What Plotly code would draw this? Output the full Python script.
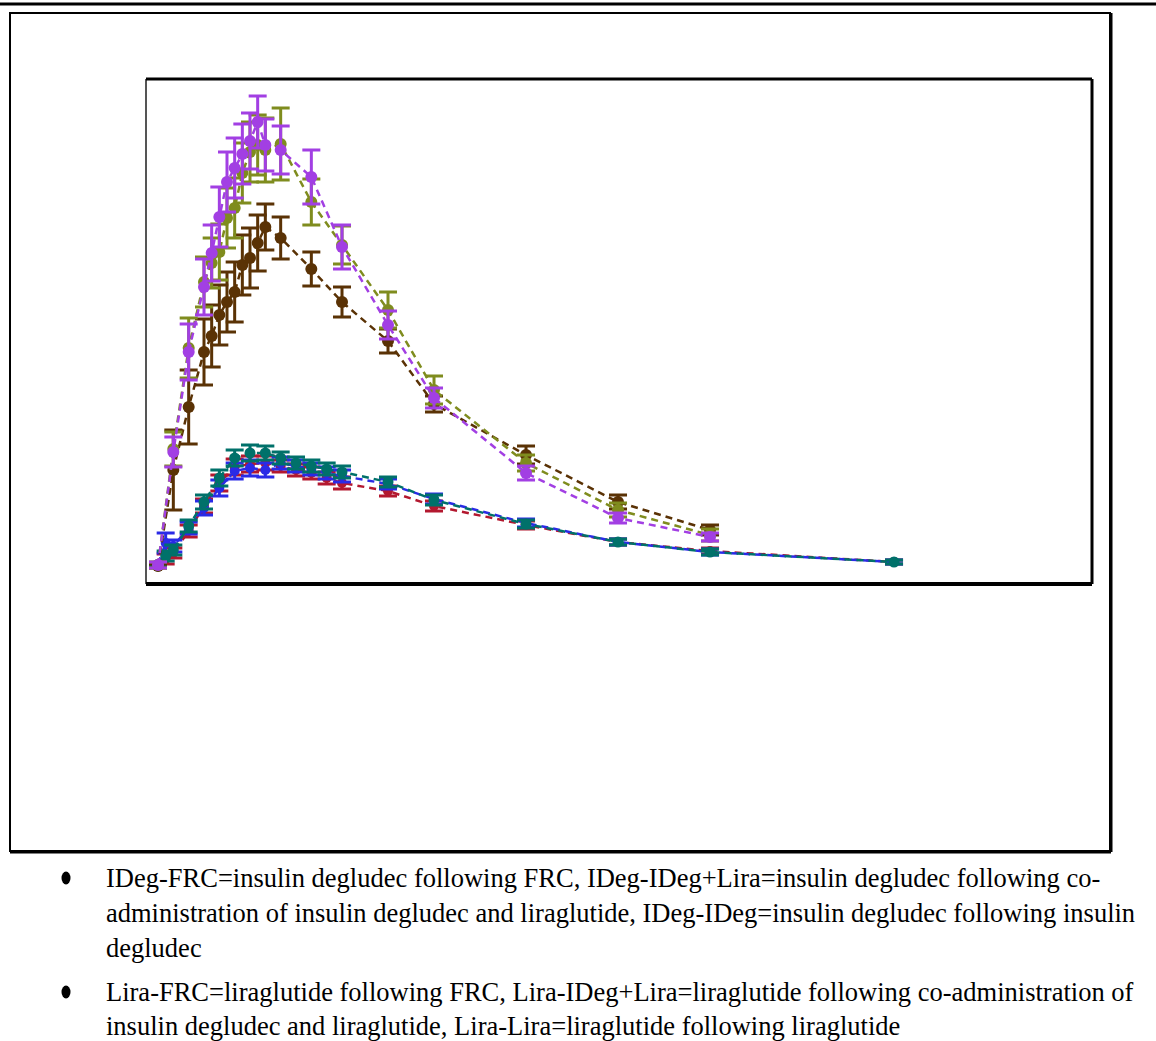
import plotly.graph_objects as go

# Sampling times (hours)
t_ideg = [0, 2, 4, 6, 7, 8, 9, 10, 11, 12, 13, 14, 16, 20, 24, 30, 36, 48, 60, 72]
t_lira = [0, 1, 2, 4, 6, 8, 10, 12, 14, 16, 18, 20, 22, 24, 30, 36, 48, 60, 72, 96]

# Mean concentrations and SEM, insulin degludec profiles
ideg_frc = [2, 228, 428, 558, 626, 698, 768, 796, 824, 850, 888, 842, 832, 778, 638, 482, 336, 186, 96, 58]
ideg_frc_err = [6, 30, 56, 56, 56, 60, 60, 60, 60, 56, 52, 52, 48, 54, 44, 28, 20, 14, 10, 8]
ideg_coadm = [2, 234, 436, 568, 606, 628, 696, 716, 786, 828, 842, 832, 844, 728, 642, 512, 352, 206, 112, 62]
ideg_coadm_err = [6, 34, 60, 50, 50, 56, 60, 60, 60, 60, 60, 64, 72, 46, 38, 36, 28, 16, 14, 12]
ideg_ideg = [0, 192, 318, 428, 460, 502, 528, 548, 602, 616, 646, 678, 656, 594, 528, 450, 324, 222, 128, 72]
ideg_ideg_err = [4, 80, 74, 66, 62, 60, 60, 60, 60, 60, 56, 46, 42, 34, 30, 24, 16, 18, 14, 10]

# Mean concentrations and SEM, liraglutide profiles
lira_frc = [0, 14, 26, 70, 120, 166, 198, 204, 206, 200, 192, 186, 176, 166, 150, 120, 82, 48, 30, 8]
lira_frc_err = [2, 10, 10, 12, 14, 16, 16, 16, 14, 12, 12, 12, 12, 12, 10, 10, 8, 6, 6, 4]
lira_coadm = [4, 46, 40, 76, 116, 156, 190, 196, 192, 206, 200, 194, 186, 180, 164, 134, 86, 48, 28, 8]
lira_coadm_err = [2, 20, 12, 12, 14, 16, 16, 16, 14, 12, 12, 12, 12, 12, 10, 10, 8, 6, 6, 4]
lira_lira = [0, 20, 32, 80, 128, 176, 216, 226, 226, 216, 206, 200, 194, 188, 168, 132, 84, 48, 28, 8]
lira_lira_err = [2, 10, 10, 12, 14, 16, 16, 16, 14, 12, 12, 12, 12, 12, 10, 10, 8, 6, 6, 4]

footnote_1 = [
    "IDeg-FRC=insulin degludec following FRC, IDeg-IDeg+Lira=insulin degludec following co-",
    "administration of insulin degludec and liraglutide, IDeg-IDeg=insulin degludec following insulin",
    "degludec",
]
footnote_2 = [
    "Lira-FRC=liraglutide following FRC, Lira-IDeg+Lira=liraglutide following co-administration of",
    "insulin degludec and liraglutide, Lira-Lira=liraglutide following liraglutide",
]

W, H = 1156, 1041
PX0, PX1, PY0, PY1 = 146, 1092, 79, 584   # plot box in pixels


def px(x):
    return x / W


def py(y):
    return 1 - y / H


series = [
    ("Lira-FRC", t_lira, lira_frc, lira_frc_err, "#b3182f", 10),
    ("Lira-IDeg+Lira", t_lira, lira_coadm, lira_coadm_err, "#2a2ae6", 10),
    ("Lira-Lira", t_lira, lira_lira, lira_lira_err, "#00716a", 11),
    ("IDeg-IDeg", t_ideg, ideg_ideg, ideg_ideg_err, "#5a3205", 12),
    ("IDeg-IDeg+Lira", t_ideg, ideg_coadm, ideg_coadm_err, "#7f8c1e", 12),
    ("IDeg-FRC", t_ideg, ideg_frc, ideg_frc_err, "#a23fe3", 12),
]

fig = go.Figure()
for name, t, y, e, color, msize in series:
    fig.add_trace(go.Scatter(
        x=t, y=y, name=name, mode="lines+markers",
        line=dict(color=color, width=2.5, dash="7px,5px"),
        marker=dict(color=color, size=msize),
        error_y=dict(type="data", array=e, visible=True,
                     color=color, thickness=3, width=9),
        showlegend=False,
    ))

shapes = [
    # rule across the top of the page
    dict(type="line", xref="paper", yref="paper", x0=0, x1=1,
         y0=py(4), y1=py(4), line=dict(color="black", width=3)),
    # outer frame
    dict(type="rect", xref="paper", yref="paper", x0=px(10), x1=px(1110),
         y0=py(851), y1=py(13), line=dict(color="black", width=2)),
    dict(type="line", xref="paper", yref="paper", x0=px(10), x1=px(1111),
         y0=py(852), y1=py(852), line=dict(color="black", width=3)),
    dict(type="line", xref="paper", yref="paper", x0=px(1111), x1=px(1111),
         y0=py(852), y1=py(13), line=dict(color="black", width=3)),
    # plot box
    dict(type="line", xref="paper", yref="paper", x0=px(PX0), x1=px(PX0),
         y0=py(PY1), y1=py(PY0), line=dict(color="#555555", width=2)),
    dict(type="line", xref="paper", yref="paper", x0=px(PX0), x1=px(PX1),
         y0=py(PY0), y1=py(PY0), line=dict(color="black", width=3)),
    dict(type="line", xref="paper", yref="paper", x0=px(PX1), x1=px(PX1),
         y0=py(PY0), y1=py(PY1), line=dict(color="black", width=3)),
    dict(type="line", xref="paper", yref="paper", x0=px(PX0), x1=px(PX1),
         y0=py(PY1), y1=py(PY1), line=dict(color="black", width=4)),
]

# footnote bullets as small filled ellipses
for ys in ([878], [992]):
    yc = ys[0]
    shapes.append(dict(type="circle", xref="paper", yref="paper",
                       x0=px(61.5), x1=px(70.5), y0=py(yc + 6.5), y1=py(yc - 6.5),
                       fillcolor="black", line=dict(width=0)))

annotations = []
font = dict(family="Liberation Serif, Times New Roman, serif", size=26.5, color="black")
line_y = [[878, 913, 948], [992, 1026]]
for lines, ys in zip([footnote_1, footnote_2], line_y):
    for txt, yy in zip(lines, ys):
        annotations.append(dict(text=txt, x=px(104), y=py(yy), xref="paper", yref="paper",
                                xanchor="left", yanchor="middle", showarrow=False, font=font))

# 7.667 px per hour, t=0 at x=158 px; 1 unit = 0.5 px, 0 at y=566 px
sx = 7.667
x0 = -(158 - PX0) / sx
x1 = x0 + (PX1 - PX0) / sx
y0 = -(PY1 - 566) * 2
y1 = y0 + (PY1 - PY0) * 2

fig.update_layout(
    width=W, height=H, autosize=False,
    margin=dict(l=0, r=0, t=0, b=0),
    paper_bgcolor="white", plot_bgcolor="white",
    xaxis=dict(domain=[px(PX0), px(PX1)], range=[x0, x1], visible=False),
    yaxis=dict(domain=[py(PY1), py(PY0)], range=[y0, y1], visible=False),
    shapes=shapes, annotations=annotations,
)

fig.write_html("out.html")
